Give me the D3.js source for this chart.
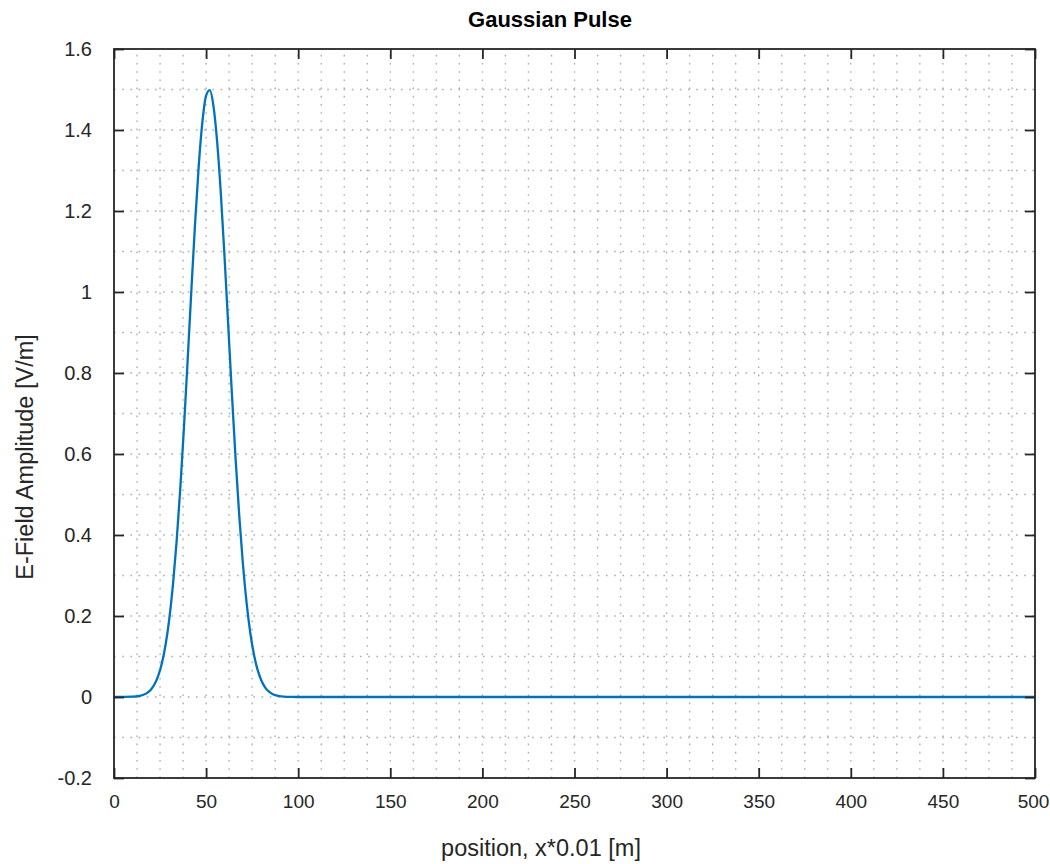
<!DOCTYPE html>
<html>
<head>
<meta charset="utf-8">
<script src="https://cdn.jsdelivr.net/npm/d3@7"></script>
<style>
  body { margin: 0; background: #fff; }
  text { font-family: "Liberation Sans", Arial, Helvetica, sans-serif; fill: #262626; }
</style>
</head>
<body>
<svg width="1050" height="864"></svg>
<script>
// pulse samples (position, amplitude)
const positions = [0, 10, 14, 16, 18, 20, 22, 24, 26, 28, 30, 32, 34, 36, 38, 40, 42, 44, 46, 48, 50, 52,
    54, 56, 58, 60, 62, 64, 66, 68, 70, 72, 74, 76, 78, 80, 82, 84, 86, 88, 92, 96, 100,
    150, 200, 250, 300, 350, 400, 450, 500];
const amplitudes = [0, 0.0007, 0.0029, 0.0055, 0.0102, 0.0182, 0.0313, 0.052, 0.0834, 0.1289, 0.1923, 0.2768, 0.3846, 0.5157, 0.6673, 0.8333, 1.0044, 1.1682, 1.3113, 1.4205, 1.4851, 1.4983,
    1.4589, 1.3709, 1.2432, 1.0881, 0.9189, 0.7491, 0.5892, 0.4473, 0.3278, 0.2318, 0.1581, 0.1041, 0.0662, 0.0406, 0.024, 0.0137, 0.0076, 0.004, 0.001, 0.0002, 0,
    0, 0, 0, 0, 0, 0, 0, 0];

const xTicks = [0, 50, 100, 150, 200, 250, 300, 350, 400, 450, 500];
const yTicks = [-0.2, 0, 0.2, 0.4, 0.6, 0.8, 1, 1.2, 1.4, 1.6];
const xMinor = [12.5, 25, 37.5, 62.5, 75, 87.5, 112.5, 125, 137.5, 162.5, 175, 187.5, 212.5, 225, 237.5,
    262.5, 275, 287.5, 312.5, 325, 337.5, 362.5, 375, 387.5, 412.5, 425, 437.5, 462.5, 475, 487.5];
const yMinor = [-0.1, 0.1, 0.3, 0.5, 0.7, 0.9, 1.1, 1.3, 1.5];

const titleText = "Gaussian Pulse";
const xLabelText = "position, x*0.01 [m]";
const yLabelText = "E-Field Amplitude [V/m]";

const svg = d3.select("svg");
const plotLeft = 114, plotRight = 1035, plotTop = 49, plotBottom = 778;

const x = d3.scaleLinear().domain([0, 500]).range([plotLeft, plotRight]);
const y = d3.scaleLinear().domain([-0.2, 1.6]).range([plotBottom, plotTop]);

const axisColor = "#262626";
const gridColor = "#adadad";

// grid (minor + major, all dotted like matlab)
const grid = svg.append("g").attr("class", "grid")
    .attr("stroke", gridColor)
    .attr("stroke-width", 1.4)
    .attr("stroke-dasharray", "1.6 6.6");

grid.selectAll("line.vx")
    .data(xMinor.concat(xTicks.filter(d => d > 0 && d < 500)))
    .enter().append("line")
    .attr("class", "vx")
    .attr("x1", d => x(d)).attr("x2", d => x(d))
    .attr("y1", plotBottom).attr("y2", plotTop);

grid.selectAll("line.hy")
    .data(yMinor.concat(yTicks.filter(d => d > -0.2 && d < 1.6)))
    .enter().append("line")
    .attr("class", "hy")
    .attr("x1", plotLeft).attr("x2", plotRight)
    .attr("y1", d => y(d)).attr("y2", d => y(d));

// the pulse
const line = d3.line()
    .x((d, i) => x(positions[i]))
    .y(d => y(d))
    .curve(d3.curveMonotoneX);

svg.append("path")
    .datum(amplitudes)
    .attr("fill", "none")
    .attr("stroke", "#0072BD")
    .attr("stroke-width", 2.3)
    .attr("stroke-linejoin", "round")
    .attr("d", line);

// axes with inward ticks on all four sides
const tickLen = 10;
const xAxisB = d3.axisBottom(x).tickValues(xTicks).tickSizeInner(-tickLen).tickSizeOuter(0).tickPadding(17);
const xAxisT = d3.axisTop(x).tickValues(xTicks).tickSizeInner(-tickLen).tickSizeOuter(0).tickFormat("");
const yAxisL = d3.axisLeft(y).tickValues(yTicks).tickSizeInner(-tickLen).tickSizeOuter(0).tickPadding(22)
    .tickFormat(d => String(+d.toFixed(1)));
const yAxisR = d3.axisRight(y).tickValues(yTicks).tickSizeInner(-tickLen).tickSizeOuter(0).tickFormat("");

function style(g) {
    g.select(".domain").remove();
    g.selectAll(".tick line").attr("stroke", axisColor).attr("stroke-width", 1.8);
    g.selectAll(".tick text").attr("fill", axisColor).attr("font-size", 20)
        .attr("font-family", "'Liberation Sans', Arial, sans-serif");
}

const gx = svg.append("g").attr("transform", `translate(0,${plotBottom})`).call(xAxisB).call(style);
// keep the last label inside the page edge
gx.selectAll(".tick text").attr("font-size", 19)
    .filter(d => d === 500).attr("dx", -2);
svg.append("g").attr("transform", `translate(0,${plotTop})`).call(xAxisT).call(style);
svg.append("g").attr("transform", `translate(${plotLeft},0)`).call(yAxisL).call(style)
    .selectAll(".tick text").attr("text-anchor", "end");
svg.append("g").attr("transform", `translate(${plotRight},0)`).call(yAxisR).call(style);

// box
svg.append("rect")
    .attr("x", plotLeft).attr("y", plotTop)
    .attr("width", plotRight - plotLeft).attr("height", plotBottom - plotTop)
    .attr("fill", "none")
    .attr("stroke", axisColor)
    .attr("stroke-width", 1.8);

// labels
svg.append("text")
    .attr("x", 550).attr("y", 27)
    .attr("text-anchor", "middle")
    .attr("font-size", 22)
    .attr("font-weight", "bold")
    .style("fill", "#000")
    .text(titleText);

svg.append("text")
    .attr("x", 541).attr("y", 856)
    .attr("text-anchor", "middle")
    .attr("font-size", 23.5)
    .text(xLabelText);

svg.append("text")
    .attr("transform", "translate(33,457) rotate(-90)")
    .attr("text-anchor", "middle")
    .attr("font-size", 23.5)
    .text(yLabelText);
</script>
</body>
</html>
